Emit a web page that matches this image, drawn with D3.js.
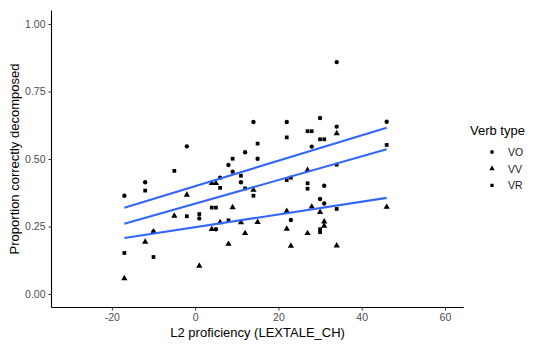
<!DOCTYPE html>
<html>
<head>
<meta charset="utf-8">
<script src="https://cdn.jsdelivr.net/npm/d3@7"></script>
<style>
  body { margin: 0; background: #fff; }
  svg { display: block; font-family: "Liberation Sans", Arial, sans-serif; }
</style>
</head>
<body>
<div id="viz"></div>
<script>
// Verb types and their points (LEXTALE_CH score, proportion decomposed)
const verbTypes = ['VO', 'VV', 'VR'];

const xVO = [-17, -12, -10, -2, 1, 5, 6, 8, 9, 11, 12, 14, 15, 22, 23, 28, 30, 30, 31, 31, 34, 34, 46];
const yVO = [0.364, 0.414, 0.231, 0.547, 0.28, 0.24, 0.431, 0.478, 0.453, 0.414, 0.525, 0.637, 0.501, 0.637, 0.274, 0.546, 0.652, 0.352, 0.401, 0.335, 0.859, 0.62, 0.638];

const xVV = [-17, -12, -10, -5, -2, 1, 4, 5, 4, 6, 8, 9, 11, 12, 14, 15, 22, 22, 23, 27, 27, 28, 30, 31, 31, 34, 34, 46];
const yVV = [0.058, 0.193, 0.231, 0.289, 0.367, 0.104, 0.41, 0.41, 0.24, 0.265, 0.185, 0.321, 0.265, 0.225, 0.385, 0.266, 0.307, 0.241, 0.178, 0.459, 0.225, 0.323, 0.303, 0.252, 0.268, 0.595, 0.179, 0.322];

const xVR = [-17, -12, -10, -5, -2, 1, 4, 5, 6, 8, 9, 11, 12, 14, 15, 22, 22, 23, 27, 27, 27, 28, 30, 30, 30, 31, 34, 34, 46];
const yVR = [0.152, 0.383, 0.137, 0.456, 0.288, 0.296, 0.32, 0.32, 0.393, 0.273, 0.501, 0.438, 0.391, 0.364, 0.557, 0.58, 0.422, 0.431, 0.603, 0.41, 0.39, 0.603, 0.573, 0.24, 0.229, 0.573, 0.315, 0.479, 0.552];

const xTicks = [-20, 0, 20, 40, 60];
const yTicks = [0, 0.25, 0.5, 0.75, 1];

(function () {
  const W = 550, H = 347;
  const left = 51.5, right = 463.7, top = 10.5, bottom = 307.5;

  const svg = d3.select('#viz').append('svg').attr('width', W).attr('height', H);

  const x = d3.scaleLinear().domain([-34.5, 64.5]).range([left, right]);
  const y = d3.scaleLinear().domain([-0.05, 1.05]).range([bottom, top]);

  const series = [
    { name: 'VO', xs: xVO, ys: yVO, shape: d3.symbolCircle, size: 15 },
    { name: 'VV', xs: xVV, ys: yVV, shape: d3.symbolTriangle, size: 17 },
    { name: 'VR', xs: xVR, ys: yVR, shape: d3.symbolSquare, size: 14 }
  ];

  // least squares fit like geom_smooth(method = "lm")
  function fit(xs, ys) {
    const mx = d3.mean(xs), my = d3.mean(ys);
    let sxy = 0, sxx = 0;
    xs.forEach((v, i) => { sxy += (v - mx) * (ys[i] - my); sxx += (v - mx) * (v - mx); });
    const b = sxy / sxx;
    return { a: my - b * mx, b: b };
  }

  // Axes
  const xAxis = svg.append('g')
    .attr('transform', `translate(0,${bottom})`)
    .call(d3.axisBottom(x).tickValues(xTicks).tickSize(3).tickPadding(3).tickFormat(d3.format('d')));
  const yAxis = svg.append('g')
    .attr('transform', `translate(${left},0)`)
    .call(d3.axisLeft(y).tickValues(yTicks).tickSize(3).tickPadding(3).tickFormat(d3.format('.2f')));

  [xAxis, yAxis].forEach((g) => {
    g.select('.domain').attr('stroke', '#000').attr('stroke-width', 1.1);
    g.selectAll('.tick line').attr('stroke', '#333').attr('stroke-width', 1);
    g.selectAll('.tick text').attr('fill', '#4d4d4d').style('font-size', '10.5px');
  });
  xAxis.select('.domain').attr('d', `M${left},0H${right}`);
  yAxis.select('.domain').attr('d', `M0,${top}V${bottom}`);
  xAxis.selectAll('.tick text').text((d) => d < 0 ? '-' + Math.abs(d) : d);

  // Points
  series.forEach((s) => {
    svg.append('g')
      .selectAll('path')
      .data(s.xs.map((v, i) => [v, s.ys[i]]))
      .enter()
      .append('path')
      .attr('d', d3.symbol().type(s.shape).size(s.size))
      .attr('transform', (d) => `translate(${x(d[0])},${y(d[1])})`)
      .attr('fill', '#000');
  });

  // Regression lines
  series.forEach((s) => {
    const f = fit(s.xs, s.ys);
    const ext = d3.extent(s.xs);
    svg.append('line')
      .attr('x1', x(ext[0])).attr('y1', y(f.a + f.b * ext[0]))
      .attr('x2', x(ext[1])).attr('y2', y(f.a + f.b * ext[1]))
      .attr('stroke', '#3366FF')
      .attr('stroke-width', 2.1);
  });

  // Axis titles
  svg.append('text')
    .attr('x', (left + right) / 2).attr('y', 337)
    .attr('text-anchor', 'middle')
    .style('font-size', '13px')
    .attr('fill', '#000')
    .text('L2 proficiency (LEXTALE_CH)');

  svg.append('text')
    .attr('transform', `translate(19,${(top + bottom) / 2}) rotate(-90)`)
    .attr('text-anchor', 'middle')
    .style('font-size', '13px')
    .attr('fill', '#000')
    .text('Proportion correctly decomposed');

  // Legend
  const legend = svg.append('g');
  legend.append('text')
    .attr('x', 470).attr('y', 135)
    .style('font-size', '13px')
    .attr('fill', '#000')
    .text('Verb type');

  series.forEach((s, i) => {
    const ky = 152 + i * 16.7;
    legend.append('path')
      .attr('d', d3.symbol().type(s.shape).size(s.size * 0.75))
      .attr('transform', `translate(492,${ky})`)
      .attr('fill', '#000');
    legend.append('text')
      .attr('x', 508).attr('y', ky + 4)
      .style('font-size', '10.5px')
      .attr('fill', '#1a1a1a')
      .text(verbTypes[i]);
  });
})();
</script>
</body>
</html>
